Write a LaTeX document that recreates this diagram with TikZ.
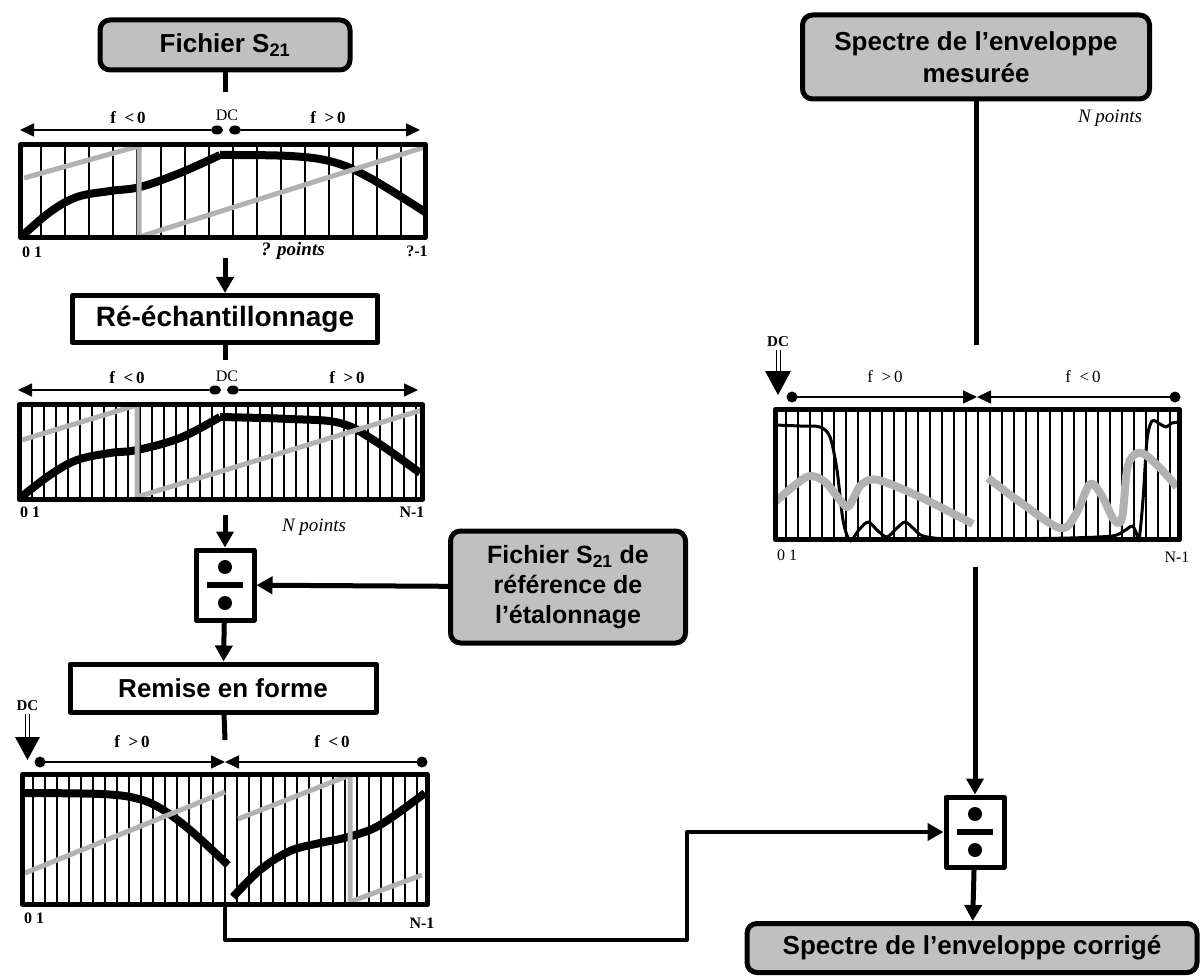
\documentclass[tikz,border=0pt]{standalone}
\usepackage{fontspec}
\setmainfont{Liberation Serif}
\setsansfont{Liberation Sans}
\usepackage{tikz}
\usetikzlibrary{arrows.meta}

\definecolor{boxgray}{RGB}{192,192,192}
\definecolor{tracegray}{RGB}{178,178,178}

\begin{document}
\begin{tikzpicture}[x=1pt,y=-1pt,line join=round]
\tikzstyle{filebox}=[draw,line width=5pt,fill=boxgray,rounded corners=10pt,align=center,inner sep=0pt,font=\fontsize{26}{32}\selectfont\sffamily\bfseries]
\tikzstyle{stepbox}=[draw,line width=5pt,fill=white,inner sep=0pt,font=\fontsize{26}{32}\selectfont\sffamily\bfseries]
\tikzstyle{divbox}=[draw,line width=5pt,fill=white,minimum width=58pt,minimum height=70pt,inner sep=0pt]
\tikzstyle{frame}=[draw,line width=5pt,inner sep=0pt]
\tikzstyle{conn}=[line width=5pt]
\tikzstyle{arr}=[line width=5pt,-{Triangle[length=16pt,width=17pt]}]
\tikzstyle{grid}=[line width=1.3pt]
\tikzstyle{trace}=[line width=8pt]
\tikzstyle{phase}=[line width=5pt,tracegray]
\tikzstyle{axis}=[line width=1.6pt]
\tikzstyle{flbl}=[font=\fontsize{17}{20}\selectfont\bfseries]
\tikzstyle{nlbl}=[font=\fontsize{16}{18}\selectfont\bfseries]
\tikzstyle{dclbl}=[font=\fontsize{16}{18}\selectfont]
\useasboundingbox (0,0) rectangle (1202,976);

% --- spectre S21 brut
\foreach \x in {41,65,...,401} \draw[grid] (\x,144) -- (\x,238);
\draw[trace] plot[smooth,tension=0.6] coordinates {(21,237) (50,212) (77,197) (110,191) (140,187) (180,173) (220,155)};
\draw[trace] plot[smooth,tension=0.6] coordinates {(220,155) (290,156) (333,162) (370,178) (425,212)};
\draw[phase] (24,178) -- (139,146) -- (139,237) -- (425,147);
\node[frame,minimum width=405pt,minimum height=93pt] (P1) at (223,191) {};
\draw[axis,{Triangle[length=14pt,width=13pt]}-] (20,130) -- (211,130);
\draw[axis,-{Triangle[length=14pt,width=13pt]}] (241,130) -- (420,130);
\fill (217,130) ellipse [x radius=6pt,y radius=4.5pt];
\fill (235,130) ellipse [x radius=6pt,y radius=4.5pt];
\node[dclbl] (dc1) at (227,115) {DC};
\node[flbl] (fn1) at (128,118) {f\enspace<\,0};
\node[flbl] (fp1) at (328,118) {f\enspace>\,0};
\node[nlbl] (z1) at (32,252) {0 1};
\node[nlbl] (e1) at (417,251) {?-1};
\node[font=\fontsize{19}{22}\selectfont\bfseries\itshape] (pts1) at (293,251) {? points};

% --- spectre re-echantillonne
\foreach \x in {32,44,...,416} \draw[grid] (\x,404) -- (\x,500);
\draw[trace] plot[smooth,tension=0.6] coordinates {(20,498) (50,475) (77,460) (110,453) (137,450) (180,438) (220,417)};
\draw[trace] plot[smooth,tension=0.6] coordinates {(220,417) (290,419) (340,423) (375,441) (420,473)};
\draw[phase] (22,440) -- (137,405) -- (137,497) -- (422,410);
\node[frame,minimum width=403pt,minimum height=95pt] (P2) at (221,452) {};
\draw[axis,{Triangle[length=14pt,width=13pt]}-] (18,390) -- (209,390);
\draw[axis,-{Triangle[length=14pt,width=13pt]}] (239,390) -- (418,390);
\fill (215,390) ellipse [x radius=6pt,y radius=4.5pt];
\fill (233,390) ellipse [x radius=6pt,y radius=4.5pt];
\node[dclbl] (dc2) at (227,376) {DC};
\node[flbl] (fn2) at (127,378) {f\enspace<\,0};
\node[flbl] (fp2) at (347,378) {f\enspace>\,0};
\node[nlbl] (z2) at (30,512) {0 1};
\node[nlbl] (e2) at (412,512) {N-1};
\node[font=\fontsize{19}{22}\selectfont\itshape] (pts2) at (314,527) {N points};

% --- spectre remis en forme
\foreach \x in {33,45,...,417} \draw[grid] (\x,774) -- (\x,905);
\draw[trace] plot[smooth,tension=0.6] coordinates {(25,793) (100,794) (135,798) (160,808) (190,830) (228,865)};
\draw[trace] plot[smooth,tension=0.6] coordinates {(233,897) (260,870) (290,851) (320,843) (348,837) (380,825) (425,793)};
\draw[phase] (25,873) -- (225,792);
\draw[phase] (238,819) -- (350,775) -- (350,902) -- (422,875);
\node[frame,minimum width=405pt,minimum height=130pt] (P3) at (225,839.5) {};
\draw[axis,-{Triangle[length=14pt,width=13pt]}] (40,762) -- (225,762);
\draw[axis,-{Triangle[length=14pt,width=13pt]}] (422,762) -- (225,762);
\fill (40,762) circle [radius=5.5pt];
\fill (422,762) circle [radius=5.5pt];
\node[font=\fontsize{15}{17}\selectfont\bfseries] (dc3) at (27.5,706) {DC};
\draw[double,double distance=3pt,line width=1pt] (27.5,714) -- (27.5,738);
\fill (15,737) -- (40,737) -- (27.5,760) -- cycle;
\node[flbl] (fp3) at (132,742) {f\enspace>\,0};
\node[flbl] (fn3) at (332,742) {f\enspace<\,0};
\node[nlbl] (z3) at (34,918) {0 1};
\node[nlbl] (e3) at (422,923) {N-1};

% --- spectre de l'enveloppe mesuree
\foreach \x in {786,798,...,1170} \draw[grid] (\x,409) -- (\x,540);
\draw[line width=3pt] plot[smooth,tension=0.5] coordinates {(775,425) (800,426) (820,427) (830,437) (837,470) (843,520) (850,541) (858,531) (868,522) (878,531) (887,537) (896,529) (905,522) (914,529) (923,536) (947,539) (1000,539) (1070,538) (1112,536) (1124,531) (1132,526) (1136,532) (1139,540) (1143,500) (1147,440) (1152,421) (1160,424) (1166,427) (1172,423) (1180,422)};
\draw[line width=8pt,tracegray] plot[smooth,tension=0.55] coordinates {(775,502) (795,485) (810,476) (825,482) (840,500) (848,507) (855,495) (862,484) (878,480) (920,497) (973,524)};
\draw[line width=8pt,tracegray] plot[smooth,tension=0.55] coordinates {(988,478) (1020,502) (1060,528) (1076,514) (1090,484) (1102,496) (1114,520) (1122,518) (1127,470) (1134,455) (1144,454) (1160,468) (1177,487)};
\node[frame,minimum width=404pt,minimum height=130pt] (P4) at (977.5,474.5) {};
\draw[axis,-{Triangle[length=14pt,width=13pt]}] (792,397) -- (977,397);
\draw[axis,-{Triangle[length=14pt,width=13pt]}] (1175,397) -- (977,397);
\fill (792,397) circle [radius=5.5pt];
\fill (1175,397) circle [radius=5.5pt];
\node[font=\fontsize{15}{17}\selectfont\bfseries] (dc4) at (778,342) {DC};
\draw[double,double distance=3pt,line width=1pt] (778,350) -- (778,372);
\fill (765,371) -- (791,371) -- (778,395) -- cycle;
\node[font=\fontsize{17}{20}\selectfont] (fp4) at (885,377) {f\enspace>\,0};
\node[font=\fontsize{17}{20}\selectfont] (fn4) at (1083,377) {f\enspace<\,0};
\node[font=\fontsize{16}{18}\selectfont] (z4) at (787,555) {0 1};
\node[font=\fontsize{16}{18}\selectfont] (e4) at (1177,557) {N-1};

% --- blocs
\node[filebox,minimum width=250pt,minimum height=50pt] (F1) at (225,45) {Fichier S\textsubscript{21}};
\node[stepbox,minimum width=305pt,minimum height=47pt,font=\fontsize{28}{32}\selectfont\sffamily\bfseries] (R1) at (225,319) {Ré-échantillonnage};
\node[divbox] (D1) at (225,585) {};
\node[filebox,minimum width=235pt,minimum height=112pt,font=\fontsize{25}{30}\selectfont\sffamily\bfseries] (R2) at (568,587) {Fichier S\textsubscript{21} de\\référence de\\l’étalonnage};
\node[stepbox,minimum width=306pt,minimum height=48pt] (R3) at (223,688) {Remise en forme};
\node[filebox,minimum width=347pt,minimum height=84pt] (M1) at (976,57) {Spectre de l’enveloppe\\mesurée};
\node[font=\fontsize{19}{22}\selectfont\itshape] (pts3) at (1110,118) {N points};
\node[divbox] (D2) at (975,832) {};
\node[filebox,minimum width=450pt,minimum height=49pt] (C1) at (972,948) {Spectre de l’enveloppe corrigé};

\foreach \d in {D1,D2} {
  \fill ([yshift=18pt]\d.center) circle [radius=7pt];
  \fill ([yshift=-18pt]\d.center) circle [radius=7pt];
  \draw[line width=6pt] ([xshift=-18pt]\d.center) -- ([xshift=18pt]\d.center);
}

% --- liaisons
\coordinate (s1) at (225,92);
\coordinate (a1) at (225,258);
\coordinate (s2) at (225,360);
\coordinate (a2) at (225,515);
\coordinate (s3) at (225,740);
\coordinate (s4) at (976,345);
\coordinate (a4) at (975,567);
\coordinate (k1) at (687,940);
\draw[conn] (F1) -- (s1);
\draw[arr] (a1) -- (R1);
\draw[conn] (R1) -- (s2);
\draw[arr] (a2) -- (D1);
\draw[arr] (R2) -- (D1);
\draw[arr] (D1) -- (R3);
\draw[conn] (R3) -- (s3);
\draw[conn] (M1) -- (s4);
\draw[arr] (a4) -- (D2);
\draw[arr,line width=4pt] (P3.south) |- (k1) |- (D2.west);
\draw[arr] (D2) -- (C1);
\end{tikzpicture}
\end{document}
